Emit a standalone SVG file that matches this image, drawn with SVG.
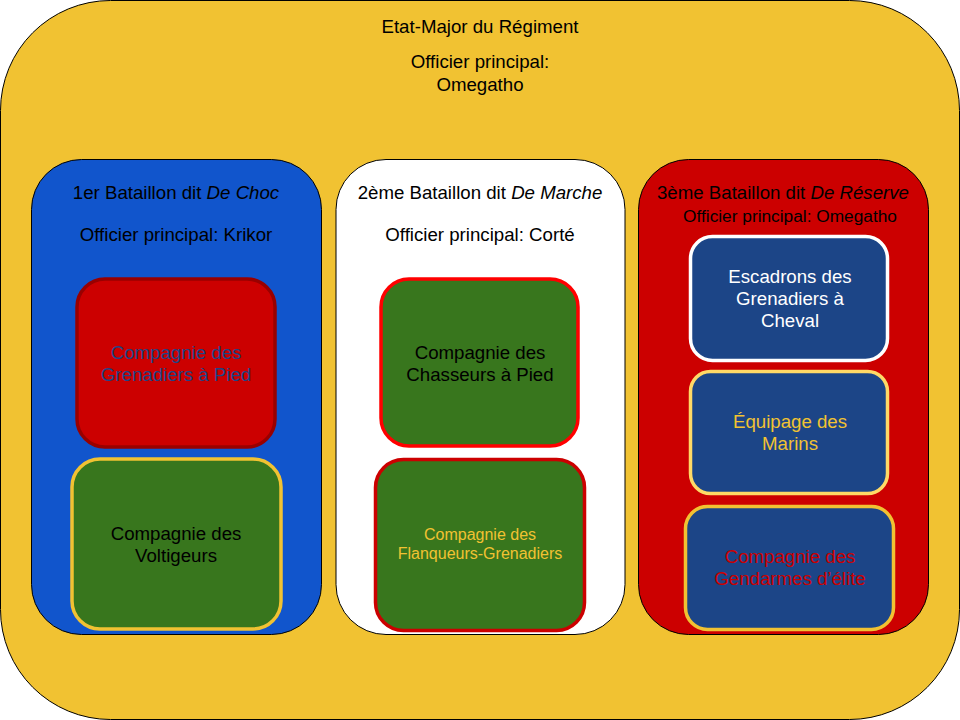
<svg xmlns="http://www.w3.org/2000/svg" width="960" height="720" viewBox="0 0 960 720">
<style>
text{font-family:"Liberation Sans",Arial,sans-serif;font-size:18.67px;text-anchor:middle}
text.s16{font-size:16px}
text.s17{font-size:17.3px}
.bat{stroke:#000;stroke-width:1}
.co{stroke-width:3.5}
</style>
<g id="regiment">
<rect x="0.5" y="0.5" width="959" height="719" rx="110" ry="110" fill="#f1c232" stroke="#000"/>
<text x="480" y="33">Etat-Major du Régiment</text>
<text x="480" y="68">Officier principal:</text>
<text x="480" y="91">Omegatho</text>
</g>
<g id="bat1">
<rect class="bat" x="31.5" y="159.5" width="290" height="475" rx="50" fill="#1155cc"/>
<text x="176" y="199">1er Bataillon dit <tspan font-style="italic">De Choc</tspan></text>
<text x="176" y="241">Officier principal: Krikor</text>
</g>
<g id="bat2">
<rect class="bat" x="336" y="159.5" width="289" height="475" rx="50" fill="#ffffff"/>
<text x="480" y="199">2ème Bataillon dit <tspan font-style="italic">De Marche</tspan></text>
<text x="480" y="241">Officier principal: Corté</text>
</g>
<g id="bat3">
<rect class="bat" x="638.5" y="159.5" width="290" height="475" rx="50" fill="#cc0000"/>
<text x="783" y="199">3ème Bataillon dit <tspan font-style="italic">De Réserve</tspan></text>
<text class="s17" x="790" y="222">Officier principal: Omegatho</text>
</g>
<g id="c_grenadiers_pied">
<rect class="co" x="77" y="279" width="198" height="168" rx="28" fill="#cc0000" stroke="#990000"/>
<text x="176" y="359" fill="#1c4587">Compagnie des</text>
<text x="176" y="381" fill="#1c4587">Grenadiers à Pied</text>
</g>
<g id="c_voltigeurs">
<rect class="co" x="72" y="459" width="209" height="170" rx="28" fill="#38761d" stroke="#f1c232"/>
<text x="176" y="540">Compagnie des</text>
<text x="176" y="562">Voltigeurs</text>
</g>
<g id="c_chasseurs">
<rect class="co" x="381" y="279" width="197" height="167" rx="28" fill="#38761d" stroke="#ff0000"/>
<text x="480" y="359">Compagnie des</text>
<text x="480" y="381">Chasseurs à Pied</text>
</g>
<g id="c_flanqueurs">
<rect class="co" x="375.5" y="459.5" width="209" height="171" rx="28" fill="#38761d" stroke="#cc0000"/>
<text class="s16" x="480" y="540" fill="#f1c232">Compagnie des</text>
<text class="s16" x="480" y="559" fill="#f1c232">Flanqueurs-Grenadiers</text>
</g>
<g id="c_escadrons">
<rect class="co" x="690.5" y="236.5" width="197" height="124" rx="22" fill="#1c4587" stroke="#ffffff"/>
<text x="790" y="283" fill="#ffffff">Escadrons des</text>
<text x="790" y="305" fill="#ffffff">Grenadiers à</text>
<text x="790" y="327" fill="#ffffff">Cheval</text>
</g>
<g id="c_equipage">
<rect class="co" x="690.5" y="371.5" width="197" height="122" rx="20" fill="#1c4587" stroke="#ffd966"/>
<text x="790" y="428" fill="#f1c232">Équipage des</text>
<text x="790" y="450" fill="#f1c232">Marins</text>
</g>
<g id="c_gendarmes">
<rect class="co" x="685.5" y="506.5" width="208" height="123" rx="22" fill="#1c4587" stroke="#f1c232"/>
<text x="790" y="563" fill="#cc0000">Compagnie des</text>
<text x="790" y="585" fill="#cc0000">Gendarmes d’élite</text>
</g>
<g id="connectors"></g>
</svg>
